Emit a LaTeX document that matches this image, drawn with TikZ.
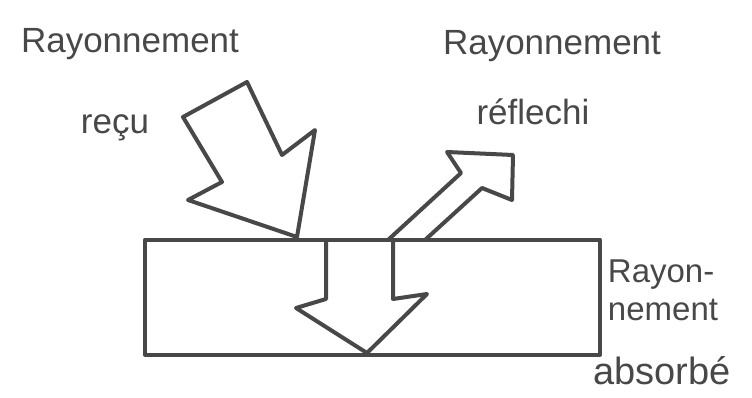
\documentclass[tikz,border=0pt]{standalone}
\usepackage{fontspec}
\setmainfont{Liberation Sans}
\usepackage{tikz}
\usetikzlibrary{positioning}
\definecolor{pencil}{RGB}{72, 72, 72}
\tikzset{every node/.style={font=\small}, every path/.style={line cap=round, line join=round}}
\tikzset{
    stroke/.style={draw=pencil, line width=4pt},
    lbl/.style={text=pencil, inner sep=0pt, font=\fontsize{35}{38}\selectfont}
}

\begin{document}
\begin{tikzpicture}[x=1pt, y=-1pt]
    \useasboundingbox (0,0) rectangle (752,398);
    % the layer
    \node [
        stroke,
        minimum width=455pt,
        minimum height=115pt,
        inner sep=0pt
    ] (plate) at (372.5,297) {};
    % incoming arrow
    \draw [stroke] (183,117) -- (247,82) -- (282,155) -- (315,130) -- (297,237)
        -- (188,200) -- (222,182) -- cycle;
    % reflected arrow
    \draw [stroke] (388,240) -- (461,173) -- (447,152) -- (513,155) -- (512,200)
        -- (482,188) -- (425,240);
    % absorbed arrow
    \draw [stroke] (326,240) -- (326,299) -- (296,308) -- (367,353) -- (427,294)
        -- (393,299) -- (393,240);
    % labels
    \node [lbl] (recuA) at (130,44) {Rayonnement};
    \node [lbl] (recuB) at (115,128) {reçu};
    \node [lbl] (reflA) at (552,46) {Rayonnement};
    \node [lbl] (reflB) at (533,112) {réflechi};
    \node [
        lbl,
        align=left,
        font=\fontsize{33}{38}\selectfont
    ] (absA) at (663,290) {Rayon-\\nement};
    \node [lbl, font=\fontsize{38}{42}\selectfont] (absB) at (662,371) {absorbé};
\end{tikzpicture}
\end{document}
